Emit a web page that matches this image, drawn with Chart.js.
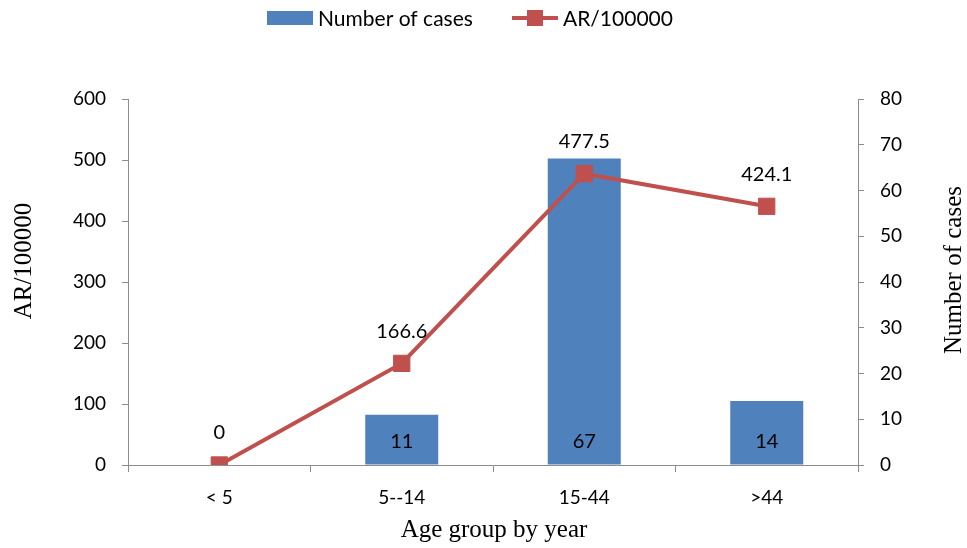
<!DOCTYPE html>
<html>
<head>
<meta charset="utf-8">
<script src="https://cdn.jsdelivr.net/npm/chart.js@4.4.1/dist/chart.umd.min.js"></script>
<style>
  html, body { margin: 0; padding: 0; background: #fff; }
  #wrap { width: 967px; height: 548px; }
</style>
</head>
<body>
<div id="wrap"><canvas id="ageChart" width="967" height="548"></canvas></div>
<script>
// data
const categories = ["< 5", "5--14", "15-44", ">44"];
const cases = [0, 11, 67, 14];
const arRate = [0, 166.6, 477.5, 424.1];
const leftTicks = [0, 100, 200, 300, 400, 500, 600];
const rightTicks = [0, 10, 20, 30, 40, 50, 60, 70, 80];

const barColor = "#4F81BD";
const lineColor = "#C0504D";
const axisColor = "#8C8C8C";
const tickFont = { family: "Lato", size: 19 };
const titleFont = "25px 'Liberation Serif'";

// value labels over the points and inside the bars
const valueLabels = {
  id: "valueLabels",
  afterDatasetsDraw(chart) {
    const ctx = chart.ctx;
    ctx.save();
    ctx.font = "20px Lato";
    ctx.fillStyle = "#000";
    ctx.textAlign = "center";
    ctx.textBaseline = "middle";
    chart.data.datasets.forEach((ds, i) => {
      const meta = chart.getDatasetMeta(i);
      meta.data.forEach((el, j) => {
        const v = ds.data[j];
        if (ds.type === "bar") {
          if (v === 0) return;
          ctx.fillText(String(v), el.x, el.base - 23);
        } else {
          ctx.fillText(String(v), el.x, el.y - 32);
        }
      });
    });
    ctx.restore();
  }
};

// legend and axis titles
const extras = {
  id: "extras",
  afterDraw(chart) {
    const ctx = chart.ctx;
    ctx.save();
    // legend
    ctx.fillStyle = barColor;
    ctx.fillRect(267, 11, 46, 14);
    ctx.strokeStyle = lineColor;
    ctx.lineWidth = 4;
    ctx.beginPath();
    ctx.moveTo(512, 18);
    ctx.lineTo(558, 18);
    ctx.stroke();
    ctx.fillStyle = lineColor;
    ctx.fillRect(527, 10, 16, 16);
    ctx.fillStyle = "#000";
    ctx.font = "21px Lato";
    ctx.textBaseline = "middle";
    ctx.textAlign = "left";
    ctx.fillText(chart.data.datasets[0].label, 318, 19);
    ctx.fillText(chart.data.datasets[1].label, 563, 19);

    // axis titles
    ctx.font = titleFont;
    ctx.textAlign = "center";
    ctx.fillText("Age group by year", 494, 530);
    ctx.save();
    ctx.translate(24, 261);
    ctx.rotate(-Math.PI / 2);
    ctx.fillText("AR/100000", 0, 0);
    ctx.restore();
    ctx.save();
    ctx.translate(954, 270);
    ctx.rotate(-Math.PI / 2);
    ctx.fillText("Number of cases", 0, 0);
    ctx.restore();
    ctx.restore();
  }
};

new Chart(document.getElementById("ageChart"), {
  data: {
    labels: categories,
    datasets: [
      {
        type: "bar",
        label: "Number of cases",
        data: cases,
        yAxisID: "y1",
        backgroundColor: barColor,
        borderWidth: 0,
        barPercentage: 0.4,
        categoryPercentage: 1,
        order: 1
      },
      {
        type: "line",
        label: "AR/100000",
        data: arRate,
        yAxisID: "y",
        borderColor: lineColor,
        backgroundColor: lineColor,
        borderWidth: 4,
        pointStyle: "rect",
        pointRadius: 11.5,
        pointBorderWidth: 1,
        pointBorderColor: lineColor,
        pointBackgroundColor: lineColor,
        tension: 0,
        order: 0
      }
    ]
  },
  options: {
    responsive: false,
    animation: false,
    devicePixelRatio: 1,
    layout: { padding: { top: 99, left: 0, right: 0, bottom: 0 } },
    plugins: {
      legend: { display: false },
      tooltip: { enabled: false }
    },
    scales: {
      x: {
        offset: true,
        grid: { offset: true, drawOnChartArea: false, drawTicks: true, tickLength: 7, color: axisColor },
        border: { display: true, color: axisColor, width: 1 },
        ticks: { color: "#000", font: tickFont, padding: 14 },
        afterFit(scale) { scale.height = 83; }
      },
      y: {
        position: "left",
        min: 0,
        max: 600,
        afterBuildTicks(scale) { scale.ticks = leftTicks.map(v => ({ value: v })); },
        grid: { drawOnChartArea: false, drawTicks: true, tickLength: 6, color: axisColor },
        border: { display: true, color: axisColor, width: 1 },
        ticks: { color: "#000", font: tickFont, padding: 16 },
        afterFit(scale) { scale.width = 128; }
      },
      y1: {
        position: "right",
        min: 0,
        max: 80,
        afterBuildTicks(scale) { scale.ticks = rightTicks.map(v => ({ value: v })); },
        grid: { drawOnChartArea: false, drawTicks: true, tickLength: 6, color: axisColor },
        border: { display: true, color: axisColor, width: 1 },
        ticks: { color: "#000", font: tickFont, padding: 16 },
        afterFit(scale) { scale.width = 109; }
      }
    }
  },
  plugins: [valueLabels, extras]
});
</script>
</body>
</html>
